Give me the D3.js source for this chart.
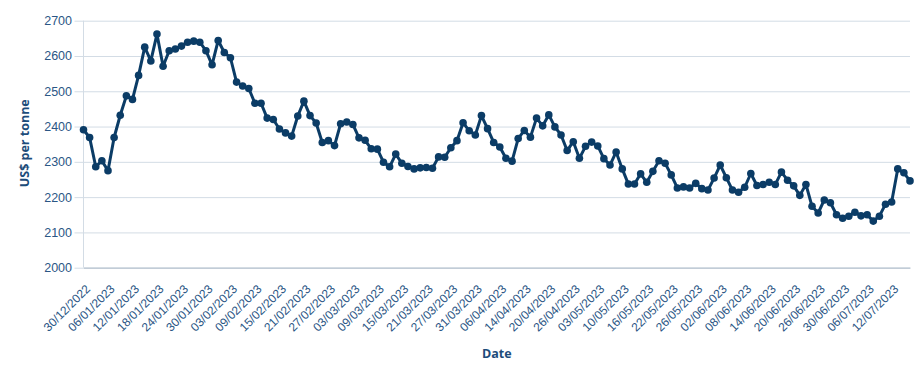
<!DOCTYPE html>
<html>
<head>
<meta charset="utf-8">
<script src="https://cdn.jsdelivr.net/npm/d3@7"></script>
<style>
  html, body { margin: 0; padding: 0; background: #fff; }
  svg { display: block; font-family: "Open Sans", "Noto Sans", sans-serif; }
</style>
</head>
<body>
<svg id="chart" width="920" height="382"></svg>
<script>
const dates = [
  "30/12/2022",
  "03/01/2023","04/01/2023","05/01/2023","06/01/2023","09/01/2023","10/01/2023","11/01/2023","12/01/2023","13/01/2023",
  "16/01/2023","17/01/2023","18/01/2023","19/01/2023","20/01/2023","23/01/2023","24/01/2023","25/01/2023","26/01/2023",
  "27/01/2023","30/01/2023","31/01/2023",
  "01/02/2023","02/02/2023","03/02/2023","06/02/2023","07/02/2023","08/02/2023","09/02/2023","10/02/2023","13/02/2023",
  "14/02/2023","15/02/2023","16/02/2023","17/02/2023","20/02/2023","21/02/2023","22/02/2023","23/02/2023","24/02/2023",
  "27/02/2023","28/02/2023",
  "01/03/2023","02/03/2023","03/03/2023","06/03/2023","07/03/2023","08/03/2023","09/03/2023","10/03/2023","13/03/2023",
  "14/03/2023","15/03/2023","16/03/2023","17/03/2023","20/03/2023","21/03/2023","22/03/2023","23/03/2023","24/03/2023",
  "27/03/2023","28/03/2023","29/03/2023","30/03/2023","31/03/2023",
  "03/04/2023","04/04/2023","05/04/2023","06/04/2023","11/04/2023","12/04/2023","13/04/2023","14/04/2023","17/04/2023",
  "18/04/2023","19/04/2023","20/04/2023","21/04/2023","24/04/2023","25/04/2023","26/04/2023","27/04/2023","28/04/2023",
  "02/05/2023","03/05/2023","04/05/2023","05/05/2023","09/05/2023","10/05/2023","11/05/2023","12/05/2023","15/05/2023",
  "16/05/2023","17/05/2023","18/05/2023","19/05/2023","22/05/2023","23/05/2023","24/05/2023","25/05/2023","26/05/2023",
  "30/05/2023","31/05/2023",
  "01/06/2023","02/06/2023","05/06/2023","06/06/2023","07/06/2023","08/06/2023","09/06/2023","12/06/2023","13/06/2023",
  "14/06/2023","15/06/2023","16/06/2023","19/06/2023","20/06/2023","21/06/2023","22/06/2023","23/06/2023","26/06/2023",
  "27/06/2023","28/06/2023","29/06/2023","30/06/2023",
  "03/07/2023","04/07/2023","05/07/2023","06/07/2023","07/07/2023","10/07/2023","11/07/2023","12/07/2023","13/07/2023",
  "14/07/2023","17/07/2023"
];

const prices = [
  2391,2369,2286,2303,2275,2369,2432,2487,2477,2545,
  2625,2586,2662,2571,2615,2620,2628,2639,2642,2639,
  2615,2575,2644,2610,2595,2526,2515,2508,2466,2466,
  2424,2420,2393,2382,2373,2430,2472,2431,2410,2355,
  2360,2346,2408,2413,2406,2368,2361,2337,2336,2299,
  2286,2322,2296,2287,2280,2283,2284,2282,2314,2313,
  2340,2360,2411,2388,2376,2431,2394,2355,2342,2310,
  2302,2366,2389,2370,2424,2402,2433,2399,2376,2332,
  2357,2310,2344,2356,2345,2309,2291,2328,2280,2237,
  2237,2266,2242,2273,2303,2296,2263,2226,2229,2226,
  2239,2224,2220,2254,2291,2255,2220,2214,2228,2267,
  2233,2236,2242,2236,2271,2248,2232,2205,2236,2174,
  2155,2192,2184,2150,2140,2146,2157,2147,2150,2132,
  2146,2180,2186,2280,2269,2246
];

const xTickLabels = [
  "30/12/2022","06/01/2023","12/01/2023","18/01/2023","24/01/2023","30/01/2023","03/02/2023","09/02/2023",
  "15/02/2023","21/02/2023","27/02/2023","03/03/2023","09/03/2023","15/03/2023","21/03/2023","27/03/2023",
  "31/03/2023","06/04/2023","14/04/2023","20/04/2023","26/04/2023","03/05/2023","10/05/2023","16/05/2023",
  "22/05/2023","26/05/2023","02/06/2023","08/06/2023","14/06/2023","20/06/2023","26/06/2023","30/06/2023",
  "06/07/2023","12/07/2023"
];

const yTicks = [2000, 2100, 2200, 2300, 2400, 2500, 2600, 2700];

(function () {
  const data = dates.map((d, i) => ({ date: d, value: prices[i] }));

  const svg = d3.select("#chart");
  const mLeft = 83.5, mRight = 910, mTop = 20.7, mBottom = 267.7;

  const x = d3.scalePoint().domain(dates).range([mLeft, mRight]);
  const y = d3.scaleLinear().domain([2000, 2700]).range([mBottom, mTop]);

  const tickColor = "#2b5685";
  const gridColor = "#d3dce5";

  const yAxis = svg.append("g")
    .attr("transform", `translate(${mLeft},0)`)
    .call(d3.axisLeft(y).tickValues(yTicks).tickFormat(d3.format("d")).tickSize(9).tickSizeOuter(0).tickPadding(3));
  yAxis.select(".domain").remove();
  yAxis.selectAll(".tick line")
    .attr("stroke", gridColor)
    .attr("x1", mRight - mLeft)
    .attr("x2", -9);
  yAxis.selectAll(".tick text")
    .attr("x", -11.5)
    .attr("fill", tickColor)
    .style("font-size", "12.5px");

  svg.append("line")
    .attr("x1", mLeft).attr("x2", mLeft)
    .attr("y1", mTop).attr("y2", mBottom)
    .attr("stroke", gridColor);

  const xAxis = svg.append("g")
    .attr("transform", `translate(0,${mBottom})`)
    .call(d3.axisBottom(x).tickValues(xTickLabels).tickSize(0).tickSizeOuter(0));
  xAxis.select(".domain").attr("stroke", "#b8c3cf").attr("stroke-width", 1.2);
  xAxis.selectAll(".tick text")
    .attr("fill", tickColor)
    .style("font-size", "12px")
    .attr("text-anchor", "end")
    .attr("dy", "0.35em")
    .attr("y", 0)
    .attr("transform", "translate(4,19) rotate(-45)");

  const line = d3.line().x(d => x(d.date)).y(d => y(d.value));
  svg.append("path")
    .datum(data)
    .attr("fill", "none")
    .attr("stroke", "#0b3c66")
    .attr("stroke-width", 3)
    .attr("stroke-linejoin", "round")
    .attr("d", line);

  svg.append("g").selectAll("circle")
    .data(data)
    .join("circle")
    .attr("cx", d => x(d.date))
    .attr("cy", d => y(d.value))
    .attr("r", 3.8)
    .attr("fill", "#0b3c66");

  svg.append("text")
    .attr("transform", `translate(29,${(mTop + mBottom) / 2 - 1}) rotate(-90)`)
    .attr("text-anchor", "middle")
    .attr("fill", "#1d4c7a")
    .style("font-size", "12.5px")
    .style("font-weight", "bold")
    .text("US$ per tonne");

  svg.append("text")
    .attr("x", (mLeft + mRight) / 2)
    .attr("y", 358)
    .attr("text-anchor", "middle")
    .attr("fill", "#1d4c7a")
    .style("font-size", "12.5px")
    .style("font-weight", "bold")
    .text("Date");
})();
</script>
</body>
</html>
